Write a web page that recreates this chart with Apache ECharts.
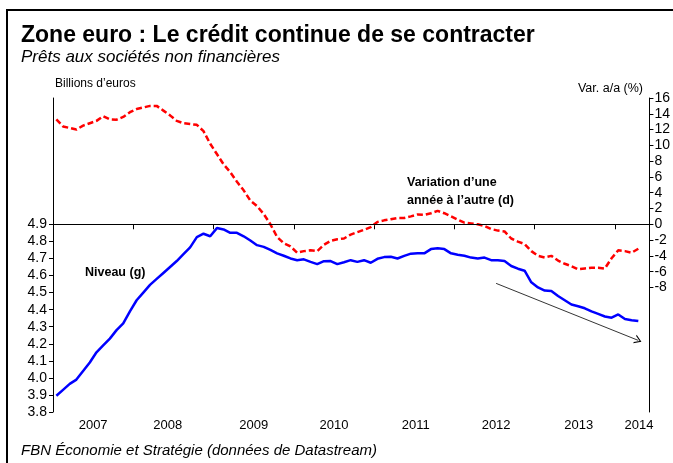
<!DOCTYPE html>
<html>
<head>
<meta charset="UTF-8">
<title>Zone euro : Le crédit continue de se contracter</title>
<style>
  html, body { margin: 0; padding: 0; background: #fff; }
  #chart { width: 673px; height: 463px; }
</style>
</head>
<body>
<div id="chart"></div>
<script src="https://cdn.jsdelivr.net/npm/echarts@6/dist/echarts.min.js"></script>
<script>
// monthly data, Jan 2007 -> Apr 2014
var firstYear = 2007;
var monthCount = 88;

// encours de prêts aux SNF (axe gauche)
var niveau = [
  3.895, 3.93, 3.965, 3.99, 4.04, 4.09, 4.15, 4.19, 4.23, 4.28, 4.32, 4.39,
  4.455, 4.50, 4.545, 4.58, 4.615, 4.65, 4.685, 4.725, 4.765, 4.825, 4.845, 4.83,
  4.878, 4.87, 4.85, 4.85, 4.83, 4.805, 4.778, 4.768, 4.75, 4.73, 4.716, 4.70,
  4.69, 4.695, 4.68, 4.667, 4.684, 4.685, 4.667, 4.678, 4.69, 4.68, 4.69, 4.675,
  4.698, 4.708, 4.71, 4.70, 4.715, 4.728, 4.73, 4.73, 4.755, 4.76, 4.755, 4.73,
  4.722, 4.716, 4.705, 4.70, 4.705, 4.69, 4.69, 4.685, 4.656, 4.64, 4.628, 4.56,
  4.53, 4.512, 4.509, 4.48, 4.455, 4.43, 4.42, 4.408, 4.39, 4.375, 4.36, 4.353,
  4.372, 4.345, 4.338, 4.333
];

// variation a/a en % (axe droit)
var variation = [
  13.3, 12.4, 12.2, 12.0, 12.5, 12.8, 13.1, 13.7, 13.3, 13.25, 13.6, 14.2,
  14.6, 14.8, 15.0, 15.0, 14.4, 13.8, 13.1, 12.8, 12.7, 12.6, 11.8, 10.2,
  8.9, 7.6, 6.6, 5.4, 4.3, 3.0, 2.3, 1.3, 0.0, -1.6, -2.4, -2.8,
  -3.6, -3.4, -3.3, -3.4, -2.6, -2.1, -1.9, -1.8, -1.3, -1.0, -0.7, -0.35,
  0.3, 0.5, 0.65, 0.8, 0.8, 1.0, 1.25, 1.2, 1.4, 1.7, 1.4, 1.0,
  0.6, 0.2, 0.1, 0.0, -0.2, -0.6, -0.8, -0.9, -1.8, -2.2, -2.5, -3.4,
  -4.0, -4.2, -4.0, -4.6, -5.0, -5.3, -5.7, -5.6, -5.5, -5.5, -5.6, -4.3,
  -3.3, -3.4, -3.6, -3.1
];

var yearTicks = [2008, 2009, 2010, 2011, 2012, 2013, 2014];
var yearLabels = [2007.5, 2008.43, 2009.5, 2010.5, 2011.52, 2012.52, 2013.55, 2014.3];
var leftTicks = [3.8, 3.9, 4.0, 4.1, 4.2, 4.3, 4.4, 4.5, 4.6, 4.7, 4.8, 4.9];
var rightTicks = [-8, -6, -4, -2, 0, 2, 4, 6, 8, 10, 12, 14, 16];

// tendance (flèche), en coordonnées de données
var arrowFrom = [2012.52, 4.554];
var arrowTo = [2014.29, 4.22];

// month -> decimal year (mid-month)
var months = [];
for (var i = 0; i < monthCount; i++) {
  var y = firstYear + Math.floor(i / 12);
  var m = i % 12;
  months.push(y + (m + 0.5) / 12);
}

function pairs(vals) {
  var out = [];
  for (var i = 0; i < vals.length; i++) out.push([months[i], vals[i]]);
  return out;
}

var FONT = '"Liberation Sans", Arial, sans-serif';
var chart = echarts.init(document.getElementById('chart'));

var option = {
  animation: false,
  backgroundColor: '#fff',
  grid: { left: 53, right: 21, top: 98, bottom: 51 },
  xAxis: {
    type: 'value',
    min: 2007,
    max: 2014.43,
    axisLine: { show: true, lineStyle: { color: '#000', width: 1 } },
    axisTick: { show: true, length: 5, customValues: yearTicks, lineStyle: { color: '#000' } },
    axisLabel: {
      customValues: yearLabels,
      margin: 7,
      color: '#000',
      fontFamily: FONT,
      fontSize: 13,
      formatter: function (v) { return String(Math.floor(v)); }
    },
    splitLine: { show: false }
  },
  yAxis: [{
    type: 'value',
    position: 'left',
    min: 3.8,
    max: 5.6406,
    axisLine: { show: true, lineStyle: { color: '#000', width: 1 } },
    axisTick: { show: true, length: 4, customValues: leftTicks, lineStyle: { color: '#000' } },
    axisLabel: {
      customValues: leftTicks,
      margin: 6,
      color: '#000',
      fontFamily: FONT,
      fontSize: 14,
      formatter: function (v) { return v.toFixed(1); }
    },
    splitLine: { show: false }
  }, {
    type: 'value',
    position: 'right',
    min: -23.78,
    max: 16,
    axisLine: { show: true, lineStyle: { color: '#000', width: 1 } },
    axisTick: { show: true, length: 4, customValues: rightTicks, lineStyle: { color: '#000' } },
    axisLabel: {
      customValues: rightTicks,
      margin: 5,
      color: '#000',
      fontFamily: FONT,
      fontSize: 14
    },
    splitLine: { show: false }
  }],
  series: [{
    name: 'Variation d\u2019une année à l\u2019autre (d)',
    type: 'line',
    yAxisIndex: 1,
    data: pairs(variation),
    showSymbol: false,
    lineStyle: { color: '#ff0000', width: 2.5, type: [6, 3] },
    z: 3,
    markLine: {
      silent: true,
      symbol: ['none', 'none'],
      label: { show: false },
      lineStyle: { color: '#000', width: 1, type: 'solid' },
      data: [{ yAxis: 0 }]
    }
  }, {
    name: 'Niveau (g)',
    type: 'line',
    yAxisIndex: 0,
    data: pairs(niveau),
    showSymbol: false,
    lineStyle: { color: '#0000ff', width: 2.5 },
    z: 4,
    markLine: {
      silent: true,
      symbol: ['none', 'path://M0,10 L5,0 L10,10 L8.6,10 L5,2.8 L1.4,10 Z'],
      symbolSize: [9, 7],
      label: { show: false },
      lineStyle: { color: '#000', width: 0.8, type: 'solid' },
      data: [[{ coord: arrowFrom }, { coord: arrowTo }]]
    }
  }],
  graphic: [
    { type: 'rect', shape: { x: 7, y: 10, width: 700, height: 500 },
      style: { fill: 'none', stroke: '#000', lineWidth: 2 }, silent: true },
    { type: 'text', left: 21, top: 24,
      style: { text: 'Zone euro : Le crédit continue de se contracter', fill: '#000',
               font: 'bold 23px ' + FONT } },
    { type: 'text', left: 21, top: 49,
      style: { text: 'Prêts aux sociétés non financières', fill: '#000',
               font: 'italic 17px ' + FONT } },
    { type: 'text', left: 55, top: 78,
      style: { text: 'Billions d\u2019euros', fill: '#000', font: '12px ' + FONT } },
    { type: 'text', right: 30, top: 82,
      style: { text: 'Var. a/a (%)', fill: '#000', font: '12.5px ' + FONT } },
    { type: 'text', left: 85, top: 266,
      style: { text: 'Niveau (g)', fill: '#000', font: 'bold 12.5px ' + FONT } },
    { type: 'text', left: 407, top: 174,
      style: { text: 'Variation d\u2019une\nannée à l\u2019autre (d)', fill: '#000',
               font: 'bold 12.5px ' + FONT, lineHeight: 18 } },
    { type: 'text', left: 21, top: 443,
      style: { text: 'FBN Économie et Stratégie (données de Datastream)', fill: '#000',
               font: 'italic 15px ' + FONT } }
  ]
};

chart.setOption(option);
</script>
</body>
</html>
